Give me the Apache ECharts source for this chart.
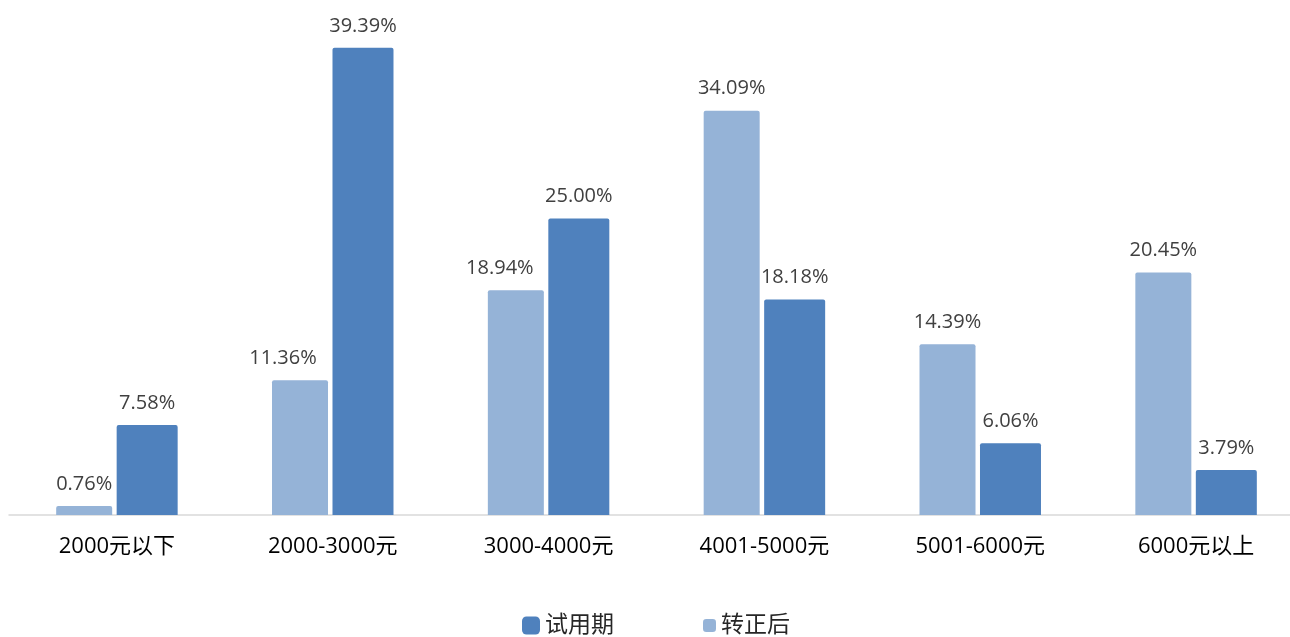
<!DOCTYPE html>
<html><head><meta charset="utf-8">
<script src="https://cdn.jsdelivr.net/npm/echarts@6/dist/echarts.min.js"></script>
<style>html,body{margin:0;padding:0;background:#fff;overflow:hidden;width:1290px;height:637px}#c{width:1304px;height:637px}</style>
</head><body><div id="c"></div>
<script>
const categories = ['2000元以下','2000-3000元','3000-4000元','4001-5000元','5001-6000元','6000元以上'];
const afterValues = [0.76, 11.36, 18.94, 34.09, 14.39, 20.45];   // 转正后
const trialValues = [7.58, 39.39, 25.00, 18.18, 6.06, 3.79];     // 试用期
const FONT = '"Open Sans","Noto Sans CJK SC",sans-serif';
const chart = echarts.init(document.getElementById('c'));
const labelCfg = {show:true, position:'top', distance:12, color:'#404040', fontSize:20, fontFamily:FONT,
  formatter: p => p.value.toFixed(2) + '%'};
// labels nudged left where they would collide with the neighbouring bar
const afterLabelShift = {1:-17, 2:-16};
const afterData = afterValues.map((v, i) => afterLabelShift[i] !== undefined
  ? {value:v, label:{offset:[afterLabelShift[i], 0]}} : v);
chart.setOption({
  animation:false,
  textStyle:{fontFamily:FONT},
  grid:{left:9, right:0, top:40.6, bottom:122, containLabel:false},
  legend:[
    {data:['试用期'], left:517, top:609, itemWidth:18, itemHeight:18, itemGap:6,
     textStyle:{fontSize:23, color:'#262626', fontFamily:FONT}},
    {data:['转正后'], left:698, top:609, itemWidth:13, itemHeight:13, itemGap:7,
     textStyle:{fontSize:23, color:'#262626', fontFamily:FONT}}
  ],
  xAxis:{type:'category', data:categories,
    axisLine:{lineStyle:{color:'#D9D9D9', width:1.5}}, axisTick:{show:false},
    axisLabel:{color:'#000', fontSize:22, margin:21, fontFamily:FONT}},
  yAxis:{type:'value', min:0, max:40, show:false, splitLine:{show:false}},
  series:[
    {name:'转正后', type:'bar', data:afterData, barWidth:56, barGap:'8%',
     itemStyle:{color:'#95B3D7', borderRadius:[2,2,0,0]}, label:labelCfg},
    {name:'试用期', type:'bar', data:trialValues, barWidth:61, barGap:'8%',
     itemStyle:{color:'#4F81BD', borderRadius:[2,2,0,0]}, label:labelCfg}
  ]
});
</script></body></html>
